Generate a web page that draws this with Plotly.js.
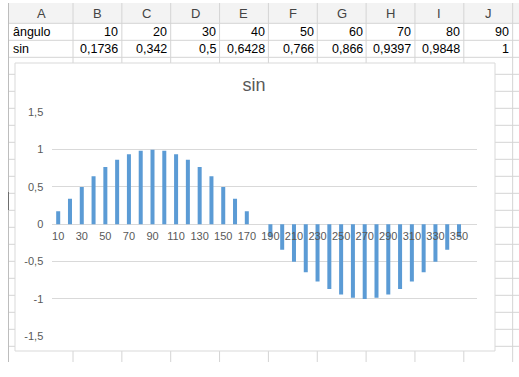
<!DOCTYPE html>
<html>
<head>
<meta charset="utf-8">
<script src="https://cdn.plot.ly/plotly-3.0.1.min.js"></script>
<style>html,body{margin:0;padding:0;background:#fff;}#chart{width:519px;height:377px;}</style>
</head>
<body>
<div id="chart"></div>
<script>
// ---- data ----
const angles = [10,20,30,40,50,60,70,80,90,100,110,120,130,140,150,160,170,180,
                190,200,210,220,230,240,250,260,270,280,290,300,310,320,330,340,350,360];
const sinValues = [0.1736,0.342,0.5,0.6428,0.766,0.866,0.9397,0.9848,1,0.9848,0.9397,0.866,0.766,0.6428,0.5,0.342,0.1736,0,
                   -0.1736,-0.342,-0.5,-0.6428,-0.766,-0.866,-0.9397,-0.9848,-1,-0.9848,-0.9397,-0.866,-0.766,-0.6428,-0.5,-0.342,-0.1736,0];
const xTickLabels = ['10','30','50','70','90','110','130','150','170','190','210','230','250','270','290','310','330','350'];
const yTickValues = [-1.5,-1,-0.5,0,0.5,1,1.5];
const yTickLabels = ['-1,5','-1','-0,5','0','0,5','1','1,5'];
const columnLetters = ['A','B','C','D','E','F','G','H','I','J'];
const rowLabels = ['ângulo','sin'];
const chartTitle = 'sin';

// ---- geometry helpers (pixels -> paper) ----
const W = 519, H = 377;
const px = x => x / W;
const py = y => 1 - y / H;

const FONT = 'Liberation Sans, Arial, sans-serif';
const gridCol = '#d4d4d4';

const shapes = [];
const annotations = [];

// header band
shapes.push({type:'rect', xref:'paper', yref:'paper', layer:'below',
  x0:px(9), x1:px(519), y0:py(3), y1:py(23.3), fillcolor:'#f3f3f3', line:{width:0}});

// column boundaries
const colEdges = [9];
for (let k = 0; k < 10; k++) colEdges.push(73 + 48.85 * k);
for (let k = 1; k < colEdges.length; k++) {
  shapes.push({type:'line', xref:'paper', yref:'paper', layer:'below',
    x0:px(colEdges[k]), x1:px(colEdges[k]), y0:py(3), y1:py(362), line:{color:gridCol, width:1}});
}
// left sheet edge
shapes.push({type:'line', xref:'paper', yref:'paper', layer:'below',
  x0:px(8.5), x1:px(8.5), y0:py(3), y1:py(362), line:{color:'#bdbdbd', width:1}});
shapes.push({type:'line', xref:'paper', yref:'paper', layer:'below',
  x0:px(8.5), x1:px(8.5), y0:py(192), y1:py(210), line:{color:'#6e6e6e', width:1}});
// row boundaries
for (let k = 1; k <= 20; k++) {
  const y = 6.3 + 17 * k;
  shapes.push({type:'line', xref:'paper', yref:'paper', layer:'below',
    x0:px(9), x1:px(519), y0:py(y), y1:py(y), line:{color:gridCol, width:1}});
}
// chart area box
shapes.push({type:'rect', xref:'paper', yref:'paper', layer:'below',
  x0:px(15), x1:px(495), y0:py(351), y1:py(63), fillcolor:'#ffffff', line:{color:'#d9d9d9', width:1}});

// header letters
for (let c = 0; c < columnLetters.length; c++) {
  const left = colEdges[c], right = c + 1 < colEdges.length ? colEdges[c + 1] : 512.6;
  annotations.push({xref:'paper', yref:'paper', x:px((left + right) / 2), y:py(13.5),
    text:columnLetters[c], showarrow:false, xanchor:'center', yanchor:'middle',
    font:{family:FONT, size:13, color:'#444444'}});
}
// row labels
rowLabels.forEach((t, r) => {
  annotations.push({xref:'paper', yref:'paper', x:px(10.5), y:py(31.8 + 17 * r),
    text:t, showarrow:false, xanchor:'left', yanchor:'middle',
    font:{family:FONT, size:12.5, color:'#000000'}});
});
// cell values (first 9 columns of data)
const fmt = v => String(v).replace('.', ',');
for (let c = 0; c < 9; c++) {
  const right = c + 2 < colEdges.length ? colEdges[c + 2] : 512.6;
  annotations.push({xref:'paper', yref:'paper', x:px(right - 1.5), y:py(31.8),
    text:fmt(angles[c]), showarrow:false, xanchor:'right', yanchor:'middle',
    font:{family:FONT, size:12.5, color:'#000000'}});
  annotations.push({xref:'paper', yref:'paper', x:px(right - 1.5), y:py(48.8),
    text:fmt(sinValues[c]), showarrow:false, xanchor:'right', yanchor:'middle',
    font:{family:FONT, size:12.5, color:'#000000'}});
}

const trace = {
  type:'bar',
  x: angles.map(String),
  y: sinValues,
  marker:{color:'#5b9bd5'},
  hoverinfo:'skip'
};

const layout = {
  width:W, height:H, autosize:false,
  margin:{l:0, r:0, t:0, b:0, pad:0},
  paper_bgcolor:'#ffffff',
  plot_bgcolor:'rgba(0,0,0,0)',
  showlegend:false,
  separators:',.',
  bargap:0.66,
  title:{text:chartTitle, xref:'paper', yref:'paper', x:px(254), y:py(85),
         xanchor:'center', yanchor:'middle', font:{family:FONT, size:18, color:'#595959'}},
  xaxis:{
    type:'category',
    domain:[px(52.3), px(476.7)],
    anchor:'free', position:(py(336.3) + py(112.3)) / 2,
    tickmode:'array', tickvals:xTickLabels, ticktext:xTickLabels,
    showgrid:false, zeroline:false, showline:false, ticks:'',
    ticklabelstandoff:4,
    tickfont:{family:FONT, size:11, color:'#595959'},
    fixedrange:true
  },
  yaxis:{
    domain:[py(336.3), py(112.3)],
    range:[-1.5, 1.5],
    tickmode:'array', tickvals:yTickValues, ticktext:yTickLabels,
    showgrid:true, gridcolor:'#d9d9d9', gridwidth:1,
    zeroline:true, zerolinecolor:'#d9d9d9', zerolinewidth:1,
    showline:false, ticks:'',
    ticklabelstandoff:8,
    tickfont:{family:FONT, size:11, color:'#595959'},
    fixedrange:true
  },
  shapes:shapes,
  annotations:annotations
};

Plotly.newPlot('chart', [trace], layout, {displayModeBar:false, staticPlot:true});
</script>
</body>
</html>
